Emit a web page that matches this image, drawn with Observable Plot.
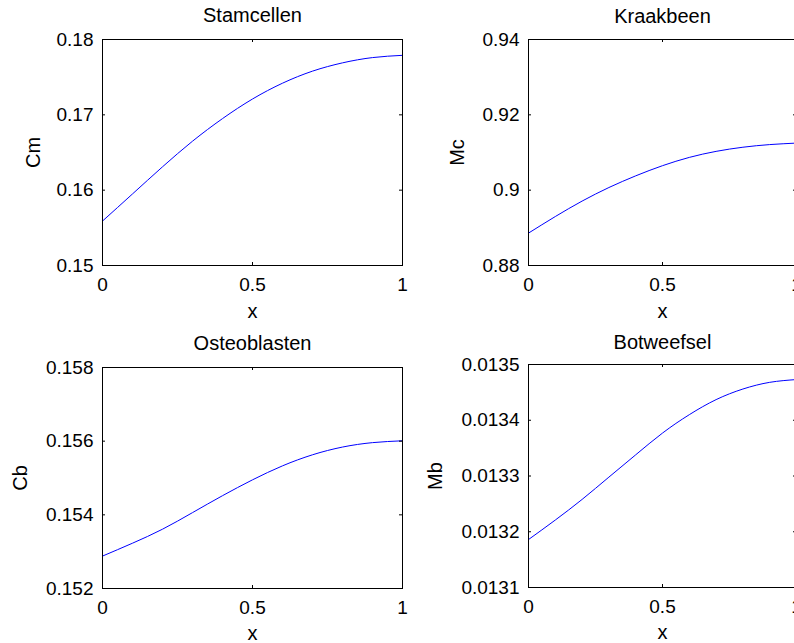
<!DOCTYPE html>
<html>
<head>
<meta charset="utf-8">
<script src="https://cdn.jsdelivr.net/npm/d3@7"></script>
<script src="https://cdn.jsdelivr.net/npm/@observablehq/plot@0.6"></script>
<style>
  html, body { margin: 0; padding: 0; background: #fff; overflow: hidden; }
  #fig { position: relative; width: 794px; height: 643px; overflow: hidden; background: #fff; }
  #fig > svg { position: absolute; max-width: none; }
</style>
</head>
<body>
<div id="fig"></div>
<script>
// Sample positions along the domain
const xs = [0, 0.1, 0.2, 0.3, 0.4, 0.5, 0.6, 0.7, 0.8, 0.9, 1];

// Stamcellen (Cm)
const cm = [0.1559, 0.1595, 0.1631, 0.1665, 0.1695, 0.1721, 0.1742, 0.1758, 0.1769, 0.1776, 0.1779];
// Kraakbeen (Mc)
const mc = [0.8886, 0.8930, 0.8971, 0.9007, 0.9038, 0.9065, 0.9087, 0.9103, 0.9114, 0.9121, 0.9125];
// Osteoblasten (Cb)
const cb = [0.15288, 0.15323, 0.15361, 0.15406, 0.15452, 0.15495, 0.15533, 0.15563, 0.15584, 0.15596, 0.15601];
// Botweefsel (Mb)
const mb = [0.013186, 0.013221, 0.013258, 0.013298, 0.013338, 0.013377, 0.013410, 0.013437, 0.013456, 0.013468, 0.013473];

const titles = ["Stamcellen", "Kraakbeen", "Osteoblasten", "Botweefsel"];
const yLabels = ["Cm", "Mc", "Cb", "Mb"];
const xLabel = "x";

const xTicks = [0, 0.5, 1];
const cmTicks = [0.15, 0.16, 0.17, 0.18];
const mcTicks = [0.88, 0.9, 0.92, 0.94];
const cbTicks = [0.152, 0.154, 0.156, 0.158];
const mbTicks = [0.0131, 0.0132, 0.0133, 0.0134, 0.0135];

const FONT = "'Liberation Sans', Arial, Helvetica, sans-serif";
const TICK = 3; // inward tick length, px

const panels = [
  {title: titles[0], label: yLabels[0], values: cm, ticks: cmTicks,
   left: 0, top: 0, width: 420, height: 320, m: [39, 18, 55, 102], labelDx: -69, titleDy: -24, xLabelDy: 46},
  {title: titles[1], label: yLabels[1], values: mc, ticks: mcTicks,
   left: 420, top: 0, width: 420, height: 320, m: [39, 44, 55, 108], labelDx: -71, titleDy: -23, xLabelDy: 46},
  {title: titles[2], label: yLabels[2], values: cb, ticks: cbTicks,
   left: 0, top: 320, width: 420, height: 323, m: [47, 18, 55, 102], labelDx: -82, titleDy: -24, xLabelDy: 45},
  {title: titles[3], label: yLabels[3], values: mb, ticks: mbTicks,
   left: 420, top: 320, width: 420, height: 323, m: [44, 44, 56, 108], labelDx: -93, titleDy: -22, xLabelDy: 45}
];

const fig = document.getElementById("fig");

for (const p of panels) {
  const data = xs.map((x, i) => ({x, y: p.values[i]}));
  const yDomain = [p.ticks[0], p.ticks[p.ticks.length - 1]];
  const frameW = p.width - p.m[1] - p.m[3];
  const frameH = p.height - p.m[0] - p.m[2];
  const svg = Plot.plot({
    width: p.width,
    height: p.height,
    marginTop: p.m[0],
    marginRight: p.m[1],
    marginBottom: p.m[2],
    marginLeft: p.m[3],
    style: {fontFamily: FONT, fontSize: "19px", color: "#000", background: "transparent", overflow: "visible"},
    x: {domain: [0, 1]},
    y: {domain: yDomain},
    marks: [
      Plot.line(data, {x: "x", y: "y", stroke: "#0000ff", strokeWidth: 1, curve: "natural"}),
      // inward tick marks on all four sides of the box
      Plot.tickX(xTicks, {x: d => d, stroke: "#000", insetTop: frameH - TICK}),
      Plot.tickX(xTicks, {x: d => d, stroke: "#000", insetBottom: frameH - TICK}),
      Plot.tickY(p.ticks, {y: d => d, stroke: "#000", insetRight: frameW - TICK}),
      Plot.tickY(p.ticks, {y: d => d, stroke: "#000", insetLeft: frameW - TICK}),
      // tick labels
      Plot.axisX(xTicks, {anchor: "bottom", tickSize: 0, tickPadding: 12, tickFormat: String, label: null, fontSize: 19}),
      Plot.axisY(p.ticks, {anchor: "left", tickSize: 0, tickPadding: 9, tickFormat: String, label: null, fontSize: 19}),
      Plot.frame({stroke: "#000", strokeWidth: 1}),
      // title and axis labels
      Plot.text([p.title], {frameAnchor: "top", dy: p.titleDy, lineAnchor: "middle", fontSize: 20}),
      Plot.text([p.label], {frameAnchor: "left", dx: p.labelDx, rotate: -90, lineAnchor: "middle", textAnchor: "middle", fontSize: 20}),
      Plot.text([xLabel], {frameAnchor: "bottom", dy: p.xLabelDy, lineAnchor: "middle", fontSize: 20})
    ]
  });
  svg.style.left = p.left + "px";
  svg.style.top = p.top + "px";
  fig.appendChild(svg);
}
</script>
</body>
</html>
